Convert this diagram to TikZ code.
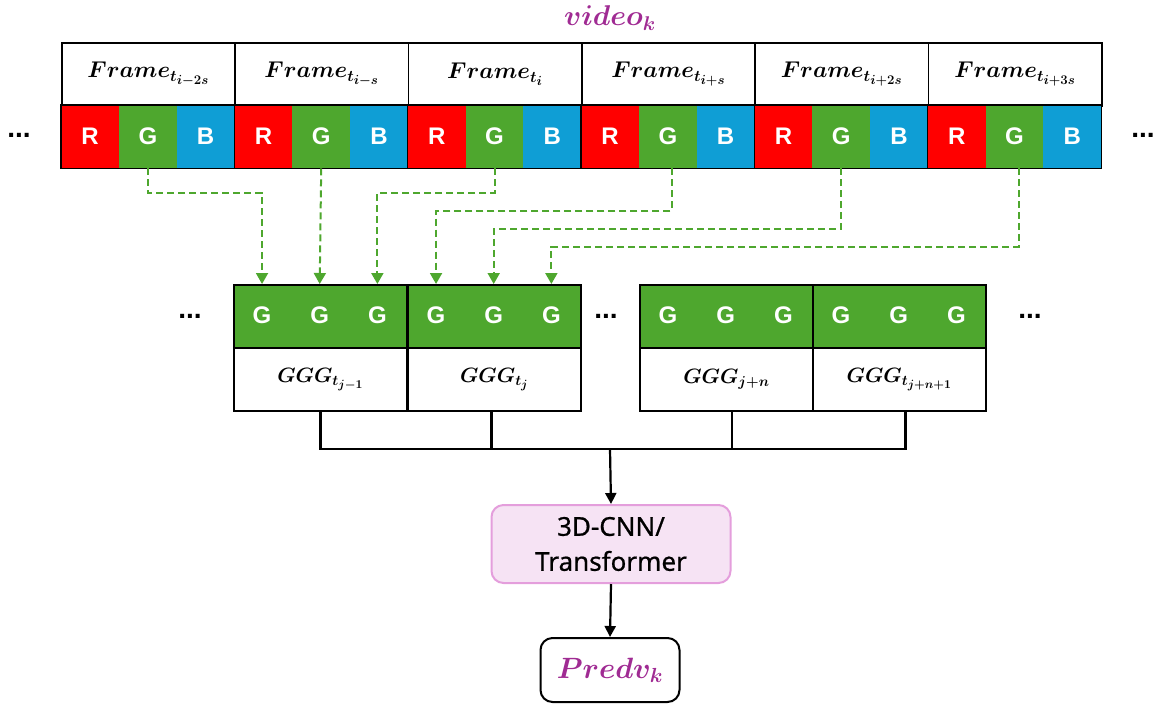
\documentclass[tikz,border=0pt]{standalone}
\usepackage{fontspec}
\usepackage{amsmath}
\usepackage{graphicx}
\newfontfamily\nsans{Noto Sans}[FakeBold=0.7]
\newfontfamily\asans{Liberation Sans}
\usetikzlibrary{arrows.meta}
\definecolor{cR}{HTML}{FF0000}
\definecolor{cG}{HTML}{4EA72E}
\definecolor{cB}{HTML}{0F9ED5}
\definecolor{cP}{HTML}{A02B93}
\definecolor{pinkfill}{HTML}{F6E3F4}
\definecolor{pinkline}{HTML}{E49EDC}
\newcommand{\subA}[1]{\mbox{\fontsize{14.4}{16}\selectfont$#1$}}
\newcommand{\subB}[1]{\mbox{\fontsize{12}{14}\selectfont$#1$}}
\newcommand{\subC}[1]{\mbox{\fontsize{17.28}{19}\selectfont$#1$}}
\newcommand{\gsubA}[1]{\mbox{\fontsize{12}{14}\selectfont$#1$}}
\newcommand{\gsubB}[1]{\mbox{\fontsize{10}{12}\selectfont$#1$}}
\newcommand{\frmlbl}[1]{\scalebox{1.1}{$Frame_{\subA{t_{\subB{#1}}}}$}}
\newcommand{\purplbl}[3]{\scalebox{#1}{$#2_{\subC{#3}}$}}
\newcommand{\ggglbl}[1]{\scalebox{1.2}{$GGG_{#1}$}}
\tikzset{
  hdr/.style={draw=black, line width=1.6pt, minimum width=173.33pt, minimum height=63pt, inner sep=0pt, anchor=north west, font=\fontsize{20.74}{24}\selectfont\boldmath},
  cell/.style={minimum width=57.78pt, minimum height=63pt, inner sep=0pt, anchor=north west, text=white, font=\asans\bfseries\fontsize{24}{26}\selectfont},
  gcell/.style={minimum width=57.67pt, minimum height=63pt, inner sep=0pt, anchor=north west, text=white, font=\asans\bfseries\fontsize{24}{26}\selectfont},
  gbox/.style={draw=black, line width=1.6pt, minimum width=173.33pt, minimum height=63pt, inner sep=0pt, anchor=north west},
  lbl/.style={font=\fontsize{17.28}{20}\selectfont\boldmath},
  dots/.style={font=\asans\bfseries\fontsize{28}{30}\selectfont, inner sep=0pt},
  garrow/.style={draw=cG, line width=2pt, dash pattern=on 7pt off 4pt, -{Triangle[width=12pt,length=11pt]}},
  br/.style={draw=black, line width=2.2pt},
  barrow/.style={draw=black, line width=2.2pt, -{Triangle[width=11pt,length=11pt]}},
  cnnbox/.style={draw=pinkline, fill=pinkfill, line width=2pt, rounded corners=12pt, minimum width=239pt, minimum height=78pt, align=center, font=\nsans\fontsize{26}{35}\selectfont},
  predbox/.style={draw=black, line width=2pt, rounded corners=12pt, minimum width=139pt, minimum height=64pt, text=cP, font=\fontsize{24.88}{28}\selectfont\boldmath},
}
\begin{document}
\begin{tikzpicture}[x=1pt,y=-1pt]
\useasboundingbox (0,0) rectangle (1161,705);
% title
\node[text=cP, font=\fontsize{24.88}{28}\selectfont\boldmath] (title) at (610,18) {\purplbl{1.15}{video}{k}};
% frames
\foreach \i/\sb in {1/i{-}2s,2/i{-}s,3/i,4/i{+}s,5/i{+}2s,6/i{+}3s}{
  \pgfmathsetmacro\xl{61+(\i-1)*173.333}
  \node[hdr] (f\i) at (\xl,42) {\frmlbl{\sb}};
  \node[cell, fill=cR] (fr\i) at (\xl,105) {R};
  \node[cell, fill=cG] (fg\i) at (\xl+57.78,105) {G};
  \node[cell, fill=cB] (fb\i) at (\xl+115.56,105) {B};
  \draw[line width=1.6pt] (fr\i.north west) rectangle (fb\i.south east);
}
\node[dots] (dl) at (19,135) {...};
\node[dots] (dr) at (1143,135) {...};
% GGG groups
\foreach \k/\xl in {1/233,2/407,3/639,4/812}{
  \node[gbox, fill=cG] (gt\k) at (\xl,284) {};
  \node[gcell] (ma\k) at (\xl,284) {G};
  \node[gcell] (mb\k) at (\xl+57.67,284) {G};
  \node[gcell] (mc\k) at (\xl+115.33,284) {G};
  \node[gbox] (gb\k) at (\xl,347) {};
}
\node[lbl] (gl1) at (gb1.center) {\ggglbl{\gsubA{t_{\gsubB{j{-}1}}}}};
\node[lbl] (gl2) at (gb2.center) {\ggglbl{\gsubA{t_{\gsubB{j}}}}};
\node[lbl] (gl3) at (gb3.center) {\ggglbl{\gsubA{j{+}n}}};
\node[lbl] (gl4) at (gb4.center) {\ggglbl{\gsubA{t_{\gsubB{j{+}n{+}1}}}}};
\node[dots] (d1) at (190,316) {...};
\node[dots] (d2) at (606,316) {...};
\node[dots] (d3) at (1030,316) {...};
% dashed connectors
\coordinate (l1) at (0,193);
\coordinate (l2) at (0,211);
\coordinate (l3) at (0,229);
\coordinate (l4) at (0,247);
\draw[garrow] (fg1.south) -- (fg1.south |- l1) -| (ma1.north);
\draw[garrow] (fg2.south) -- (mb1.north);
\draw[garrow] (fg3.south) -- (fg3.south |- l1) -| (mc1.north);
\draw[garrow] ([xshift=4pt]fg4.south) -- ([xshift=4pt]fg4.south |- l2) -| (ma2.north);
\draw[garrow] (fg5.south) -- (fg5.south |- l3) -| (mb2.north);
\draw[garrow] ([xshift=4pt]fg6.south) -- ([xshift=4pt]fg6.south |- l4) -| (mc2.north);
% bracket
\coordinate (jn) at (610,449);
\node[cnnbox] (cnn) at (611,544) {3D-CNN/\\Transformer};
\node[predbox] (pred) at (610,670) {\purplbl{1.18}{Predv}{k}};
\draw[br] (gb1.south) |- ([xshift=6pt]gb4.south |- jn) -- ([xshift=6pt]gb4.south);
\draw[br] ([xshift=-3pt]gb2.south) -- ([xshift=-3pt]gb2.south |- jn);
\draw[br] ([xshift=5.5pt]gb3.south) -- ([xshift=5.5pt]gb3.south |- jn);
\draw[barrow] (jn) -- (cnn.north);
\draw[barrow] (cnn.south) -- (pred.north);
\end{tikzpicture}
\end{document}
